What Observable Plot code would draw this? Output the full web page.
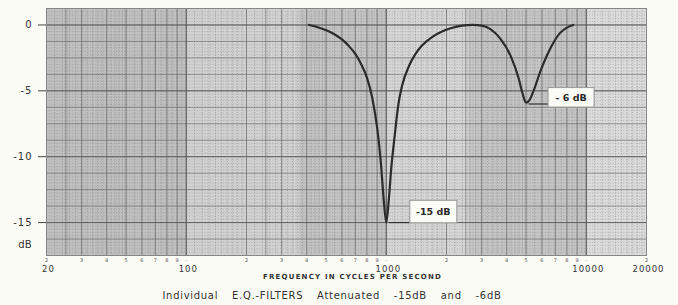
<!DOCTYPE html>
<html><head><meta charset="utf-8">
<script src="https://cdn.jsdelivr.net/npm/d3@7"></script>
<script src="https://cdn.jsdelivr.net/npm/@observablehq/plot@0.6"></script>
<style>
html,body{margin:0;padding:0;background:#fbfbf6;}
#chart{width:678px;height:287px;}
#cap{width:664px;text-align:center;font-family:"DejaVu Sans";font-size:10px;color:#333;height:18px;line-height:18px;word-spacing:10px;letter-spacing:0.7px;}
.xlab text{letter-spacing:1px;}
.ylab text{letter-spacing:1px;}
.ftitle text{letter-spacing:1.2px;}
</style></head><body>
<div id="chart"></div>
<div id="cap"></div>
<script>
// ---- data ----
const curveFreq = [410,450,500,550,600,650,700,750,800,850,900,940,970,1000,1030,1060,1100,1150,1200,1300,1400,1500,1700,1900,2100,2400,2700,3000,3300,3700,4200,4600,4800,5000,5200,5450,5900,6600,7400,8000,8600];
const curveDb   = [0,-0.15,-0.4,-0.7,-1.1,-1.6,-2.2,-3.0,-4.0,-5.5,-7.8,-10.5,-13.2,-15,-13.2,-10.8,-8.5,-6.0,-4.6,-3.1,-2.2,-1.6,-0.9,-0.5,-0.25,-0.05,0,-0.05,-0.3,-1.0,-2.4,-4.1,-5.2,-5.9,-5.7,-5.0,-3.5,-1.8,-0.6,-0.2,0];
const annotFreq = [1000, 5000];
const annotDb   = [-15, -6];
const annotText = ["-15 dB", "- 6 dB"];
const yTicks = [0, -5, -10, -15];
const xMajorLabels = [20, 100, 1000, 10000, 20000];
const decades = [10, 100, 1000, 10000];
const digits = [2, 3, 4, 5, 6, 7, 8, 9];
const bandStart = [20, 100, 370, 1000, 2600, 10000];
const bandEnd   = [100, 370, 1000, 2600, 10000, 20000];
const titleX = ["FREQUENCY IN CYCLES PER SECOND"];
const captionText = "Individual E.Q.-FILTERS Attenuated -15dB and -6dB";

// ---- styles ----
const bandTones = ["#bfbfbf", "#d1d1d1", "#c3c3c3", "#d5d5d5", "#c4c4c4", "#dbdbdb"];

const curve = curveFreq.map((f, i) => ({f, db: curveDb[i]}));
const annots = annotFreq.map((f, i) => ({f, db: annotDb[i], t: annotText[i]}));
const bands = bandStart.map((s, i) => ({s, e: bandEnd[i], tone: bandTones[i]}));

// graph-paper rulings and digit ticks
const digitTicks = [];
for (const d of decades) for (const m of digits) { const v = d * m; if (v >= 20 && v <= 20000) digitTicks.push({v, m: String(m)}); }
for (const d of [100, 1000, 10000]) digitTicks.push({v: d, m: "·"});
const mainV = [], fineV = [];
for (const d of decades) {
  for (let m = 1; m < 10; m += 0.5) {
    const v = d * m;
    if (v < 20 || v > 20000) continue;
    if (Number.isInteger(m) || m === 2.5) mainV.push(v);
  }
  const steps = [[1, 2, 0.1], [2, 5, 0.2], [5, 10, 0.5]];
  for (const [a, b, st] of steps) for (let m = a; m < b - 1e-9; m += st) {
    const v = d * m; if (v > 20 && v < 20000) fineV.push(v);
  }
}
const decadeV = [100, 1000, 10000];
const mainH = [], fineH = [];
for (let k = 0; k <= 15; k++) mainH.push(1.25 - k * 1.25);
for (let k = 0; k <= 75; k++) fineH.push(1.25 - k * 0.25);

const plot = Plot.plot({
  width: 678, height: 287,
  marginLeft: 46, marginRight: 32, marginTop: 8, marginBottom: 32,
  style: {fontFamily: "DejaVu Sans", fontSize: "10px", color: "#333", background: "transparent"},
  x: {type: "log", domain: [20, 20000], label: null},
  y: {domain: [-17.5, 1.25], label: null},
  marks: [
    Plot.frame({fill: "#cccccc"}),
    Plot.rect(bands, {x1: "s", x2: "e", fill: "tone"}),
    Plot.ruleX(fineV, {stroke: "#7a7a7a", strokeOpacity: 0.5, strokeDasharray: "1,1.6"}),
    Plot.ruleY(fineH, {stroke: "#7a7a7a", strokeOpacity: 0.4, strokeDasharray: "1,1.6"}),
    Plot.ruleX(mainV, {stroke: "#666", strokeOpacity: 0.65}),
    Plot.ruleY(mainH, {stroke: "#666", strokeOpacity: 0.6}),
    Plot.ruleX(decadeV, {stroke: "#555", strokeOpacity: 0.85}),
    Plot.ruleY(yTicks, {stroke: "#5a5a5a", strokeOpacity: 0.8}),
    Plot.frame({stroke: "#858585"}),
    Plot.line(curve, {x: "f", y: "db", stroke: "#2b2b2b", strokeWidth: 2.2, curve: "monotone-x"}),
    Plot.axisY({ticks: yTicks, tickSize: 8, tickPadding: 6, fontSize: 10, className: "ylab", label: null,
      tickFormat: d => d === 0 ? "0" : "-" + Math.abs(d), stroke: "#444"}),
    Plot.text(["dB"], {text: d => d, frameAnchor: "bottom-left", dx: -15, dy: -8, textAnchor: "end", fontSize: 10, fill: "#333"}),
    Plot.text(digitTicks, {x: "v", text: "m", frameAnchor: "bottom", dy: 6, fontSize: 5, fill: "#555"}),
    Plot.axisX({ticks: xMajorLabels, tickSize: 0, tickPadding: 10, fontSize: 8.5, dx: 2, className: "xlab",
      tickFormat: d => String(d), label: null}),
    Plot.text(titleX, {text: d => d, frameAnchor: "bottom", dy: 23, dx: 6, fontSize: 7, fontWeight: "bold", className: "ftitle", fill: "#333"})
  ]
});
document.getElementById("chart").appendChild(plot);
document.getElementById("cap").textContent = captionText;

// annotation boxes and leader lines (positions via Plot's own scales)
const sx = plot.scale("x"), sy = plot.scale("y");
const offs = [{dx: 47.5, dy: -10.5, px: 7, py: 6.5}, {dx: 45.5, dy: -6.2, px: 6.5, py: 5}];
const svg = d3.select(plot);
const layer = svg.append("g");
annots.forEach((a, i) => {
  const ax = sx.apply(a.f), ay = sy.apply(a.db);
  const o = offs[i];
  const cx = ax + o.dx, cy = ay + o.dy;
  const w = 33 + 2 * o.px, h = 9.5 + 2 * o.py;
  layer.append("line").attr("x1", ax + 3).attr("x2", cx - w / 2).attr("y1", ay + 0.5).attr("y2", ay + 0.5)
    .attr("stroke", "#333").attr("stroke-width", 1.2);
  layer.append("rect").attr("x", cx - w / 2).attr("y", cy - h / 2).attr("width", w).attr("height", h)
    .attr("fill", "#fafaf7").attr("stroke", "#9a9a9a");
  layer.append("text").attr("x", cx).attr("y", cy).attr("dy", "0.35em").attr("text-anchor", "middle")
    .attr("font-size", 9.5).attr("font-weight", "bold").attr("fill", "#2b2b2b").attr("font-family", "DejaVu Sans").text(a.t);
});
</script>
</body></html>
